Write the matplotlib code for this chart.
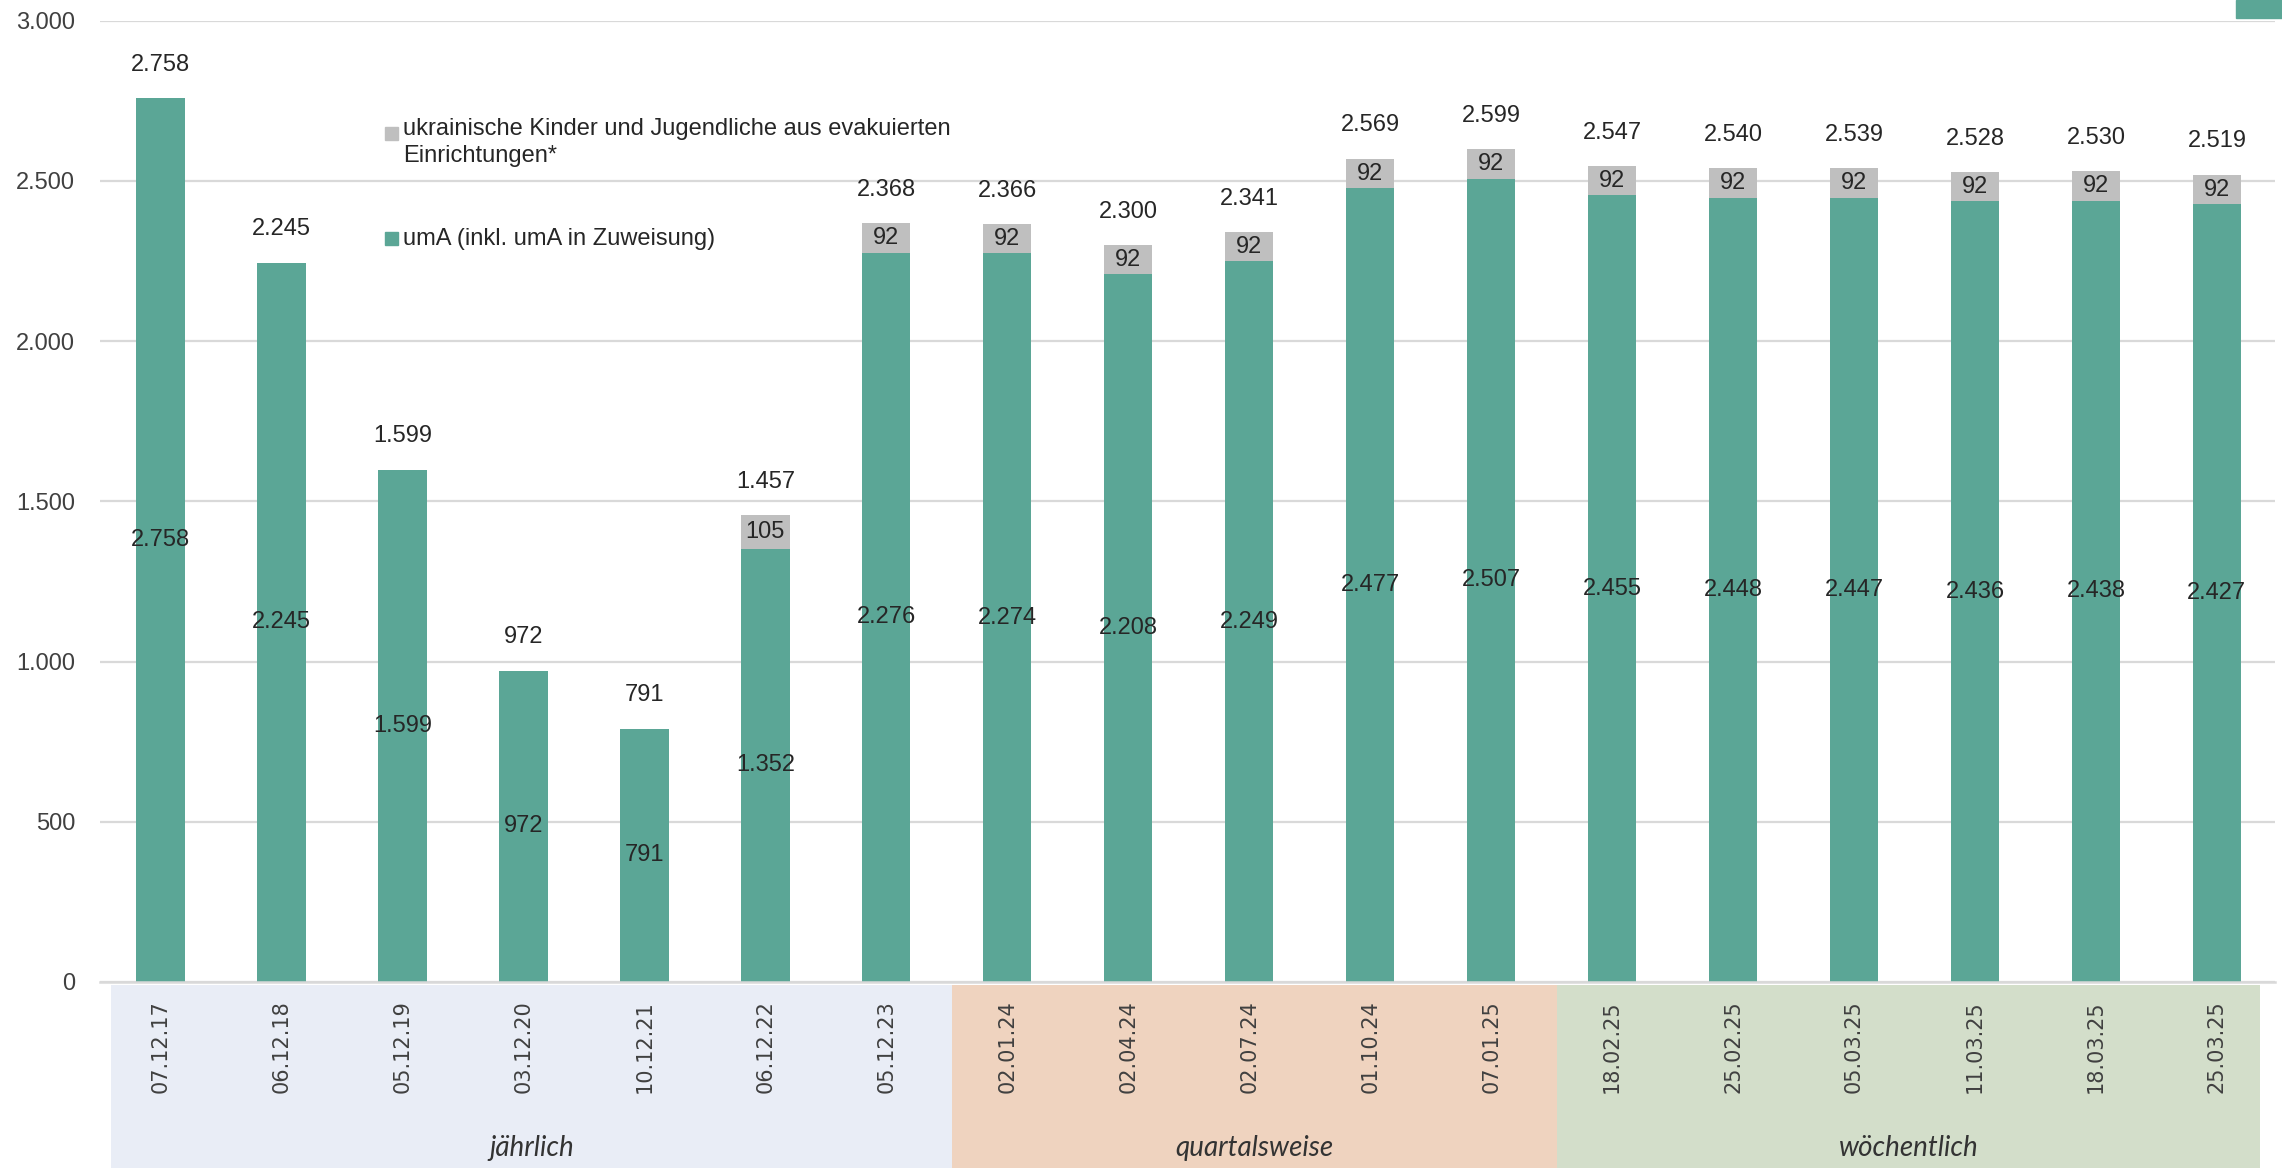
import matplotlib.pyplot as plt
from matplotlib.patches import Rectangle

# data
dates = ["07.12.17", "06.12.18", "05.12.19", "03.12.20", "10.12.21", "06.12.22", "05.12.23",
         "02.01.24", "02.04.24", "02.07.24", "01.10.24", "07.01.25",
         "18.02.25", "25.02.25", "05.03.25", "11.03.25", "18.03.25", "25.03.25"]
uma = [2758, 2245, 1599, 972, 791, 1352, 2276,
       2274, 2208, 2249, 2477, 2507,
       2455, 2448, 2447, 2436, 2438, 2427]
ukraine = [0, 0, 0, 0, 0, 105, 92,
           92, 92, 92, 92, 92,
           92, 92, 92, 92, 92, 92]
groups = ["jährlich", "quartalsweise", "wöchentlich"]
group_edges = [-0.41, 6.545, 11.545, 17.36]

teal = "#5BA696"
grey = "#BFBFBF"
band_colors = ["#E9EDF6", "#EFD3BF", "#D3DECA"]
txt = "#262626"

W, H = 2282, 1168
fig = plt.figure(figsize=(W / 100, H / 100), dpi=100)
ax = fig.add_axes([100 / W, 1 - 982 / H, 2175 / W, (982 - 20.7) / H])

plt.rcParams["font.family"] = ["Liberation Sans", "DejaVu Sans"]


def de(v):
    return f"{v:,}".replace(",", ".")


x = list(range(len(dates)))
ax.bar(x, uma, width=0.4, color=teal, zorder=2)
ax.bar(x, ukraine, width=0.4, bottom=uma, color=grey, zorder=2)

for i in x:
    ax.text(i, uma[i] / 2, de(uma[i]), ha="center", va="center", fontsize=17,
            color=txt, family="Liberation Sans", zorder=3)
    if ukraine[i]:
        ax.text(i, uma[i] + ukraine[i] / 2, de(ukraine[i]), ha="center", va="center",
                fontsize=17, color=txt, family="Liberation Sans", zorder=3)
    total = uma[i] + ukraine[i]
    ax.annotate(de(total), (i, total), xytext=(0, 24), textcoords="offset points",
                ha="center", va="center", fontsize=17, color=txt, family="Liberation Sans")

ax.set_xlim(-0.5, 17.48)
ax.set_ylim(0, 3000)
yt = [0, 500, 1000, 1500, 2000, 2500, 3000]
ax.set_yticks(yt)
ax.set_yticklabels([de(v) for v in yt], fontsize=17, color="#404040", family="Liberation Sans")
ax.set_xticks(x)
ax.set_xticklabels(dates, rotation=90, fontsize=15, color="#404040", family="DejaVu Sans", va="top")
ax.tick_params(axis="y", length=0, pad=18)
ax.tick_params(axis="x", length=0, pad=13)
ax.grid(axis="y", color="#D9D9D9", linewidth=1.6, zorder=0)
ax.set_axisbelow(True)
for s in ["top", "right", "left"]:
    ax.spines[s].set_visible(False)
ax.spines["bottom"].set_color("#D9D9D9")
ax.spines["bottom"].set_linewidth(1.8)

# category bands below the axis
tr = ax.get_xaxis_transform()
for k in range(len(groups)):
    a, b = group_edges[k], group_edges[k + 1]
    ax.add_patch(Rectangle((a, -0.2), b - a, 0.197, transform=tr, color=band_colors[k],
                           clip_on=False, zorder=0, linewidth=0))
    ax.text((a + b) / 2, -0.1726, groups[k], transform=tr, ha="center", va="center",
            fontsize=20, style="italic", color="#333333", family="Lato")

# legend
def fx(px):
    return px / W


def fy(py):
    return 1 - py / H


fig.patches.append(Rectangle((fx(385), fy(140)), 13 / W, 13 / H, color=grey,
                             transform=fig.transFigure, figure=fig))
fig.text(fx(403), fy(118), "ukrainische Kinder und Jugendliche aus evakuierten\nEinrichtungen*",
         ha="left", va="top", fontsize=17, color=txt, linespacing=1.27, family="Liberation Sans")
fig.patches.append(Rectangle((fx(385), fy(245)), 13 / W, 13 / H, color=teal,
                             transform=fig.transFigure, figure=fig))
fig.text(fx(403), fy(239), "umA (inkl. umA in Zuweisung)", ha="left", va="center",
         fontsize=17, color=txt, family="Liberation Sans")

# small teal box cut off at the top right edge
fig.patches.append(Rectangle((fx(2236), fy(18)), 46 / W, 18 / H, color=teal,
                             transform=fig.transFigure, figure=fig))

fig.savefig("out.png", dpi=100)
